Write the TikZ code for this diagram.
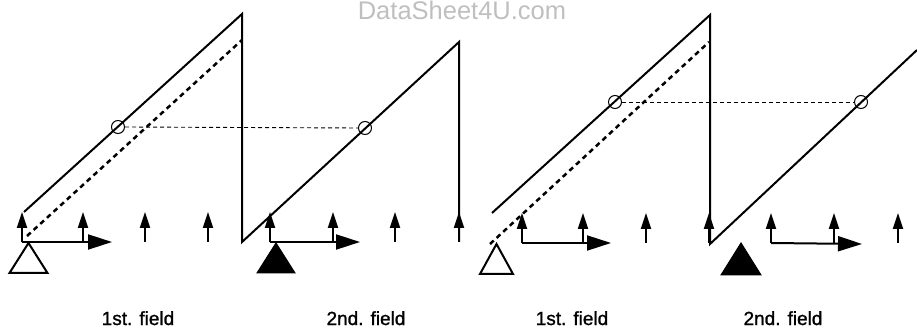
\documentclass[tikz,border=0pt]{standalone}
\usepackage{fontspec}
\setmainfont{Liberation Sans}
\newfontfamily\labfont[FakeBold=1.2]{Liberation Sans}
\usetikzlibrary{arrows.meta}
\begin{document}
\begin{tikzpicture}[x=1pt,y=-1pt,
  saw/.style={line width=2pt, line join=miter},
  dashramp/.style={line width=2.5pt, dash pattern=on 5pt off 4pt},
  level/.style={line width=0.9pt, dash pattern=on 4pt off 3pt},
  uparrow/.style={line width=2pt, -{Triangle[length=16pt,width=10pt]}},
  hor/.style={line width=2pt, -{Triangle[length=24pt,width=15pt]}},
  ringnode/.style={circle, draw, line width=1pt, minimum size=13pt, inner sep=0pt},
  openTri/.style={line width=2pt, line join=miter, fill=white},
  fullTri/.style={line width=1pt, fill=black},
  lab/.style={font=\labfont\fontsize{19}{22}\selectfont, anchor=base, inner sep=0pt},
  wm/.style={font=\fontsize{25.5}{30}\selectfont, text=black!25, anchor=base, inner sep=0pt}]
\useasboundingbox (0,0) rectangle (917,328);

% watermark
\node[wm] (wm) at (462,20) {DataSheet4U.com};

% ---------- left half ----------
\coordinate (A0) at (24,212);
\coordinate (A1) at (242,14);
\coordinate (A2) at (242,242);
\coordinate (A3) at (459,42);
\coordinate (A4) at (459,242);
\draw[saw] (A0) -- (A1) -- (A2) -- (A3) -- (A4);
\coordinate (D0) at (27,236);
\coordinate (D1) at (242,40);
\draw[dashramp] (D0) -- (D1);
\node[ringnode] (c1) at (118,127) {};
\node[ringnode] (c2) at (365,128) {};
\draw[level] (c1.east) -- (c2.west);

\foreach \x/\n in {22/a,83/b,145/c,208/d,270/e,333/f,395/g,459/h}{
  \coordinate (la\n) at (\x,242);
  \coordinate (lt\n) at (\x,212);
  \draw[uparrow] (la\n) -- (lt\n);
}
\coordinate (h1e) at (112,242);
\coordinate (h2e) at (360,242);
\draw[hor] (laa) -- (h1e);
\draw[hor] (lae) -- (h2e);

\draw[openTri] (28.5,243) -- (47.5,273) -- (9.5,273) -- cycle;
\draw[fullTri] (276,243) -- (295,273) -- (257,273) -- cycle;

\node[lab] (l1) at (138,325) {1st. field};
\node[lab] (l2) at (366,325) {2nd. field};

% ---------- right half ----------
\coordinate (B0) at (492,213);
\coordinate (B1) at (710,15);
\coordinate (B2) at (710,244);
\coordinate (B3) at (917,50);
\draw[saw] (B0) -- (B1) -- (B2) -- (B3);
\coordinate (E0) at (490,244);
\coordinate (E1) at (709,42);
\draw[dashramp] (E0) -- (E1);
\node[ringnode] (c3) at (615,102) {};
\node[ringnode] (c4) at (861,102) {};
\draw[level] (c3.east) -- (c4.west);

\foreach \x/\n in {522/a,583/b,646/c,709/d,771/e,834/f,898/g}{
  \coordinate (ra\n) at (\x,243);
  \coordinate (rt\n) at (\x,213);
  \draw[uparrow] (ra\n) -- (rt\n);
}
\coordinate (h3e) at (611,243);
\coordinate (h4e) at (862,244);
\draw[hor] (raa) -- (h3e);
\draw[hor] (rae) -- (h4e);

\draw[openTri] (496.5,244) -- (513,274) -- (480,274) -- cycle;
\draw[fullTri] (741,243) -- (761,275) -- (721,275) -- cycle;

\node[lab] (l3) at (572,325) {1st. field};
\node[lab] (l4) at (783,325) {2nd. field};
\end{tikzpicture}
\end{document}
